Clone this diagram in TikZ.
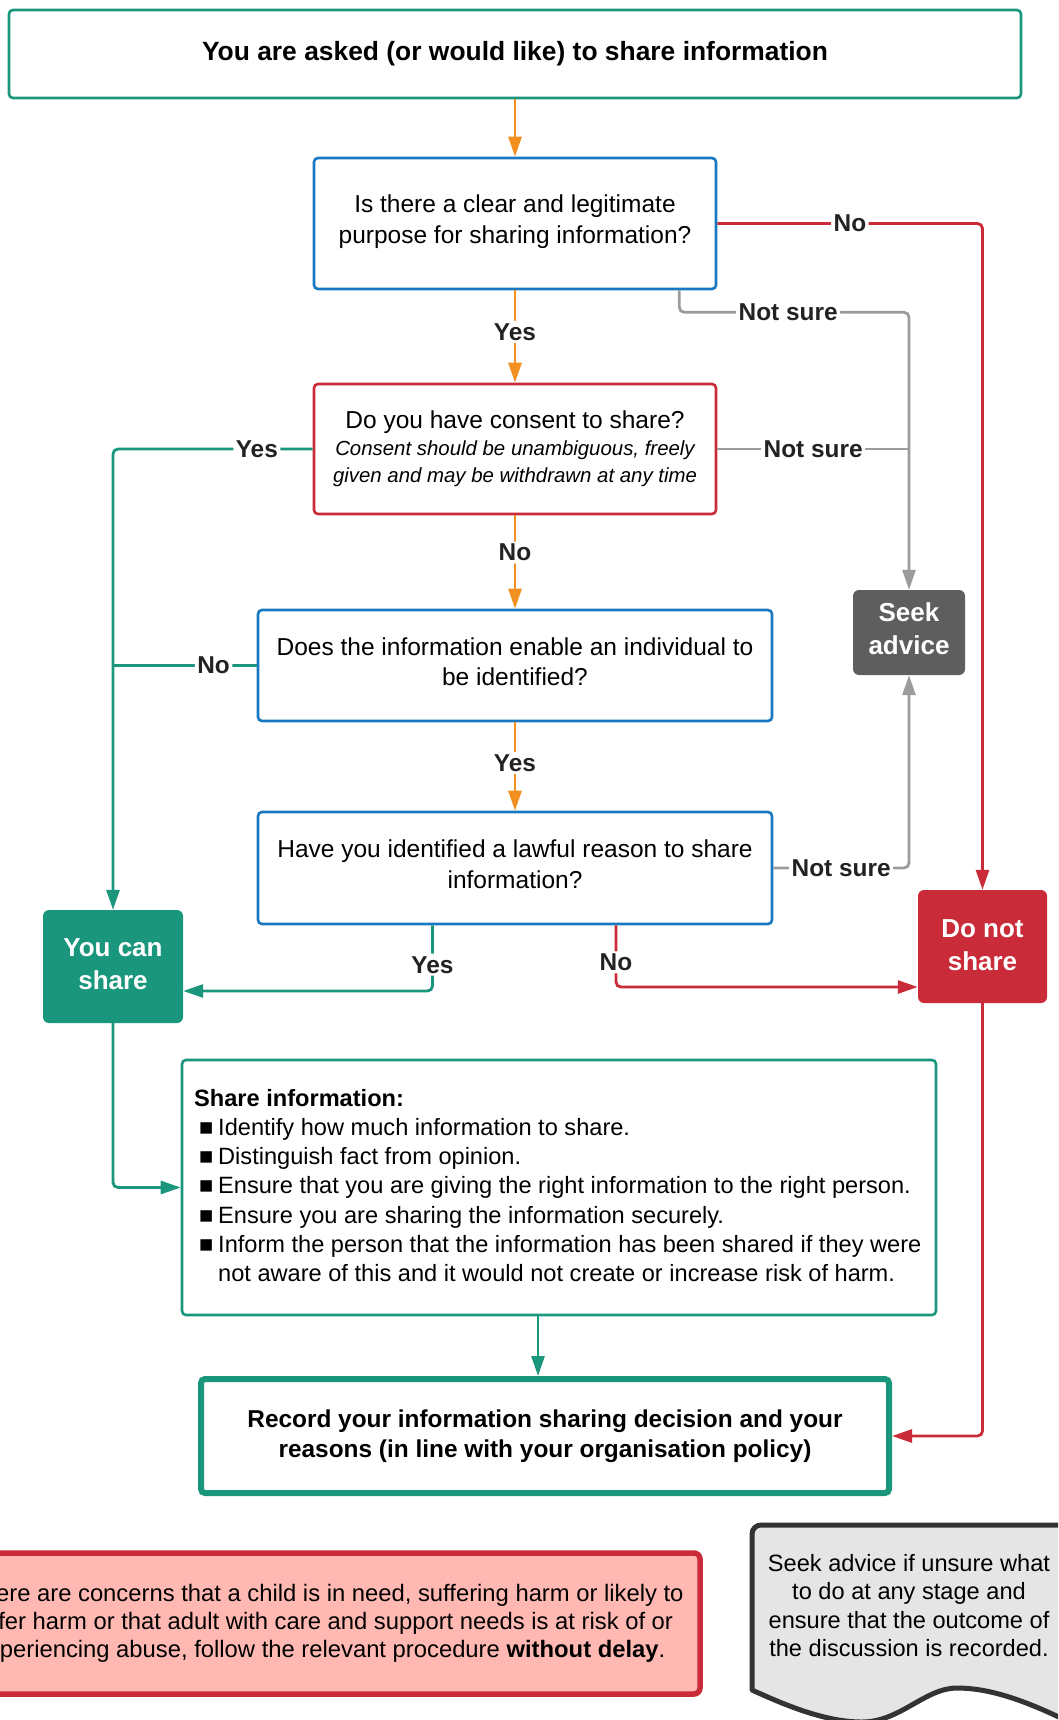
\documentclass[tikz,border=0pt]{standalone}
\usepackage{fontspec}
\setmainfont{Liberation Sans}
\usetikzlibrary{arrows.meta}
\definecolor{teal1}{RGB}{26,150,124}
\definecolor{red1}{RGB}{201,44,56}
\definecolor{orange1}{RGB}{241,143,32}
\definecolor{blue1}{RGB}{24,121,192}
\definecolor{grey1}{RGB}{155,155,155}
\definecolor{seekfill}{RGB}{94,94,94}
\definecolor{pink1}{RGB}{255,185,178}
\definecolor{docfill}{RGB}{229,229,229}
\definecolor{docline}{RGB}{51,51,51}
\definecolor{labtext}{RGB}{34,34,34}
\begin{document}
\begin{tikzpicture}[x=1pt,y=-1pt,
  box/.style={draw, rounded corners=4pt, line width=2.6pt, fill=white, align=center, inner sep=0pt, text=black, font=\fontsize{24.5}{30.5}\selectfont},
  boxtext/.style={align=center, inner sep=0pt, text=black, font=\fontsize{24.5}{30.5}\selectfont},
  solidbox/.style={rounded corners=6pt, align=center, inner sep=0pt, text=white, font=\bfseries\fontsize{26}{33}\selectfont},
  solidtext/.style={align=center, inner sep=0pt, text=white, font=\bfseries\fontsize{26}{33}\selectfont},
  conn/.style={line width=2.8pt, rounded corners=5pt},
  arr/.style={conn, -{Triangle[length=20pt,width=13pt]}},
  lbl/.style={fill=white, inner sep=2.5pt, text=labtext, font=\bfseries\fontsize{24.4}{28}\selectfont},
  linetext/.style={font=\fontsize{23.6}{29}\selectfont, inner sep=0pt, text=black, anchor=base west},
]
\useasboundingbox (0,0) rectangle (1058,1720);
\clip (0,0) rectangle (1058,1720);

% boxes
\node[box, draw=teal1, minimum width=1012pt, minimum height=88pt, font=\bfseries\fontsize{26.4}{30}\selectfont] (top) at (515,54) {You are asked (or would like) to share information};
\node[box, draw=blue1, minimum width=402pt, minimum height=131pt] (q1) at (515,223.5) {};
\node[boxtext] (q1t) at (515,221.5) {Is there a clear and legitimate\\purpose for sharing information?};
\node[box, draw=red1, minimum width=402pt, minimum height=130pt, font=\fontsize{24.5}{27}\selectfont] (q2) at (515,449) {Do you have consent to share?\\{\itshape\fontsize{20.4}{26}\selectfont Consent should be unambiguous, freely}\\{\itshape\fontsize{20.4}{26}\selectfont given and may be withdrawn at any time}};
\node[box, draw=blue1, minimum width=514pt, minimum height=111pt] (q3) at (515,665.5) {};
\node[boxtext] (q3t) at (515,661.5) {Does the information enable an individual to\\be identified?};
\node[box, draw=blue1, minimum width=514pt, minimum height=112pt] (q4) at (515,868) {};
\node[boxtext] (q4t) at (515,864) {Have you identified a lawful reason to share\\information?};
\node[solidbox, fill=seekfill, minimum width=112pt, minimum height=85pt] (seek) at (909,632.5) {};
\node[solidtext] (seekt) at (909,628.5) {Seek\\advice};
\node[solidbox, fill=teal1, minimum width=140pt, minimum height=113pt] (can) at (113,966.5) {};
\node[solidtext] (cant) at (113,964.5) {You can\\share};
\node[solidbox, fill=red1, minimum width=129pt, minimum height=113pt] (dont) at (982.5,946.5) {};
\node[solidtext] (dontt) at (982.5,945.5) {Do not\\share};
\node[box, draw=teal1, minimum width=754pt, minimum height=255pt] (share) at (559,1187.5) {};
\node[box, draw=teal1, line width=6pt, minimum width=688pt, minimum height=114pt, font=\bfseries\fontsize{24.4}{30.5}\selectfont] (record) at (545,1436) {Record your information sharing decision and your\\reasons (in line with your organisation policy)};

% share information text
\node[linetext] (s0) at (194,1106) {\textbf{Share information:}};
\node[linetext] (b1) at (199,1135.2) {■};
\node[linetext] (s1) at (218,1135.2) {Identify how much information to share.};
\node[linetext] (b2) at (199,1164.6) {■};
\node[linetext] (s2) at (218,1164.6) {Distinguish fact from opinion.};
\node[linetext] (b3) at (199,1193.9) {■};
\node[linetext] (s3) at (218,1193.9) {Ensure that you are giving the right information to the right person.};
\node[linetext] (b4) at (199,1223) {■};
\node[linetext] (s4) at (218,1223) {Ensure you are sharing the information securely.};
\node[linetext] (b5) at (199,1252.4) {■};
\node[linetext] (s5) at (218,1252.4) {Inform the person that the information has been shared if they were};
\node[linetext] (s6) at (218,1281.5) {not aware of this and it would not create or increase risk of harm.};

% warning box
\node[draw=red1, line width=5.5pt, fill=pink1, rounded corners=6pt, minimum width=760pt, minimum height=141pt, align=center, inner sep=0pt, font=\fontsize{23.8}{28.3}\selectfont] (warn) at (320,1623.5) {If there are concerns that a child is in need, suffering harm or likely to\\suffer harm or that adult with care and support needs is at risk of or\\experiencing abuse, follow the relevant procedure \textbf{without delay}.};

% document shape
\draw[draw=docline, fill=docfill, line width=5pt, line join=round]
  (900,1525) [rounded corners=9pt] -- (752,1525) [sharp corners] -- (752,1690)
  .. controls (785,1705) and (825,1722) .. (862,1722)
  .. controls (900,1722) and (925,1688) .. (957,1688)
  .. controls (985,1688) and (1020,1697) .. (1075,1725)
  -- (1075,1525) -- cycle;
\node[align=center, inner sep=0pt, font=\fontsize{23.6}{28.5}\selectfont] (doctext) at (909,1605.5) {Seek advice if unsure what\\to do at any stage and\\ensure that the outcome of\\the discussion is recorded.};

% connectors
\draw[arr, orange1] (top.south) -- (q1.north);
\draw[arr, orange1] (q1.south) -- node[lbl,pos=0.45]{Yes} (q2.north);
\draw[arr, orange1] (q2.south) -- node[lbl,pos=0.4]{No} (q3.north);
\draw[arr, orange1] (q3.south) -- node[lbl,pos=0.46]{Yes} (q4.north);
\draw[arr, red1] (q1.east) -| node[lbl,pos=0.25]{No} (dont.north);
\draw[arr, grey1] ([xshift=-38pt]q1.south east) -- ++(0,22) -| node[lbl,pos=0.237]{Not sure} (seek.north);
\draw[conn, grey1] (q2.east) -- node[lbl]{Not sure} (q2.east -| seek.north);
\draw[arr, grey1] (q4.east) -| node[lbl,pos=0.25]{Not sure} (seek.south);
\draw[arr, teal1] (q2.west) -| node[lbl,pos=0.14]{Yes} (can.north);
\draw[conn, teal1] (q3.west) -- node[lbl,pos=0.3]{No} (q3.west -| can.north);
\draw[arr, teal1] ([xshift=-82.5pt]q4.south) |- node[lbl,pos=0.3]{Yes} ([yshift=-24.5pt]can.east);
\draw[arr, red1] ([xshift=101pt]q4.south) |- node[lbl,pos=0.3]{No} ([yshift=-40.5pt]dont.west);
\draw[arr, teal1] (can.south) |- (share.west);
\draw[arr, teal1] ([xshift=-21pt]share.south) -- ([xshift=-7pt]record.north);
\draw[arr, red1] (dont.south) |- (record.east);
\end{tikzpicture}
\end{document}
